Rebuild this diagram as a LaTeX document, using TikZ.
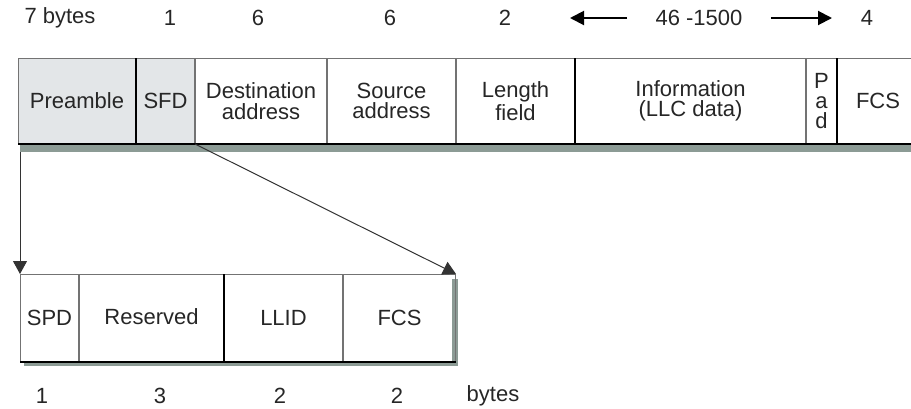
\documentclass[tikz,border=0pt]{standalone}
\usepackage{fontspec}
\setmainfont{Liberation Sans}
\usetikzlibrary{arrows.meta, positioning}
\definecolor{hdrgray}{HTML}{E3E6E8}
\definecolor{shadowgray}{HTML}{8C9B95}
\definecolor{inkgray}{HTML}{262626}

\begin{document}
\begin{tikzpicture}[x=0.5pt, y=-0.5pt, node distance=0pt]
  \tikzset{
    field/.style={rectangle, draw=black!55, line width=0.5pt, inner sep=0pt,
                  minimum height=42.5pt, text=inkgray, align=center,
                  font=\fontsize{11}{10.2}\selectfont},
    hdr/.style={field, fill=hdrgray},
    sub/.style={field, minimum height=43.5pt},
    lbl/.style={inner sep=0pt, text=inkgray, font=\fontsize{11}{12}\selectfont},
    arr/.style={-{Triangle[length=6.5pt, width=7pt]}, line width=0.5pt, draw=black!80},
    bigarr/.style={-{Triangle[length=7pt, width=7pt]}, line width=1pt, shorten <=14pt}
  }
  \useasboundingbox (0,0) rectangle (911,408);
  % shadows
  \fill[shadowgray] (20,143) rectangle (911,152);
  \fill[shadowgray] (24,361) rectangle (458,366);
  \fill[shadowgray] (452,279) rectangle (458,366);
  % frame
  \node[hdr, minimum width=58.5pt, anchor=north west] (pre) at (18,58) {Preamble};
  \node[hdr, minimum width=29pt, right=of pre]     (sfd)  {SFD};
  \node[field, minimum width=65.5pt, right=of sfd] (dst)  {Destination\\address};
  \node[field, minimum width=64pt, right=of dst]   (src)  {Source\\address};
  \node[field, minimum width=59pt, right=of src]   (len)  {Length\\field};
  \node[field, minimum width=115pt, right=of len]  (info) {Information\\(LLC data)};
  \node[field, minimum width=15pt, right=of info]  (pad)  {P\\a\\d};
  \node[field, draw=none, minimum width=40.5pt, right=of pad] (fcs) {FCS};
  \draw[black!55, line width=0.5pt] (fcs.north west) -- (fcs.north east);
  \draw[line width=0.8pt] (pre.north east) -- (pre.south east);
  \draw[line width=0.8pt] (len.north east) -- (len.south east);
  \draw[line width=0.8pt] (pad.north east) -- (pad.south east);
  \draw[line width=1pt] (pre.south west) -- (fcs.south east);
  % sub frame
  \node[sub, minimum width=29pt, anchor=north west] (spd) at (20,274) {SPD};
  \node[sub, minimum width=72pt, right=of spd]   (rsv)  {\raisebox{1.5pt}{Reserved}};
  \node[sub, minimum width=59pt, right=of rsv]   (llid) {LLID};
  \node[sub, minimum width=56pt, right=of llid]  (fcsb) {FCS};
  \draw[line width=0.8pt] (rsv.north east) -- (rsv.south east);
  \draw[line width=1pt] (spd.south west) -- (fcsb.south east);
  % byte counts
  \node[lbl] (n7)   at (60,18)  {7 bytes};
  \node[lbl] (n1)   at (170,18) {1};
  \node[lbl] (n6a)  at (258,18) {6};
  \node[lbl] (n6b)  at (390,18) {6};
  \node[lbl] (n2)   at (505,18) {2};
  \node[lbl] (nrng) at (699,18) {46 -1500};
  \node[lbl] (n4)   at (867,18) {4};
  \coordinate (rngl) at (570,18);
  \coordinate (rngr) at (832,18);
  \draw[bigarr] (nrng.west) -- (rngl);
  \draw[bigarr] (nrng.east) -- (rngr);
  \node[lbl] (m1) at (42,396)  {1};
  \node[lbl] (m3) at (160,396) {3};
  \node[lbl] (m2a) at (280,396) {2};
  \node[lbl] (m2b) at (397,396) {2};
  \node[lbl] (mb) at (493,396) {bytes};
  % expansion
  \coordinate (drop) at (20,152);
  \foreach \a/\b in {drop/spd.north west, sfd.south east/fcsb.north east}
    \draw[arr] (\a) -- (\b);
\end{tikzpicture}
\end{document}
